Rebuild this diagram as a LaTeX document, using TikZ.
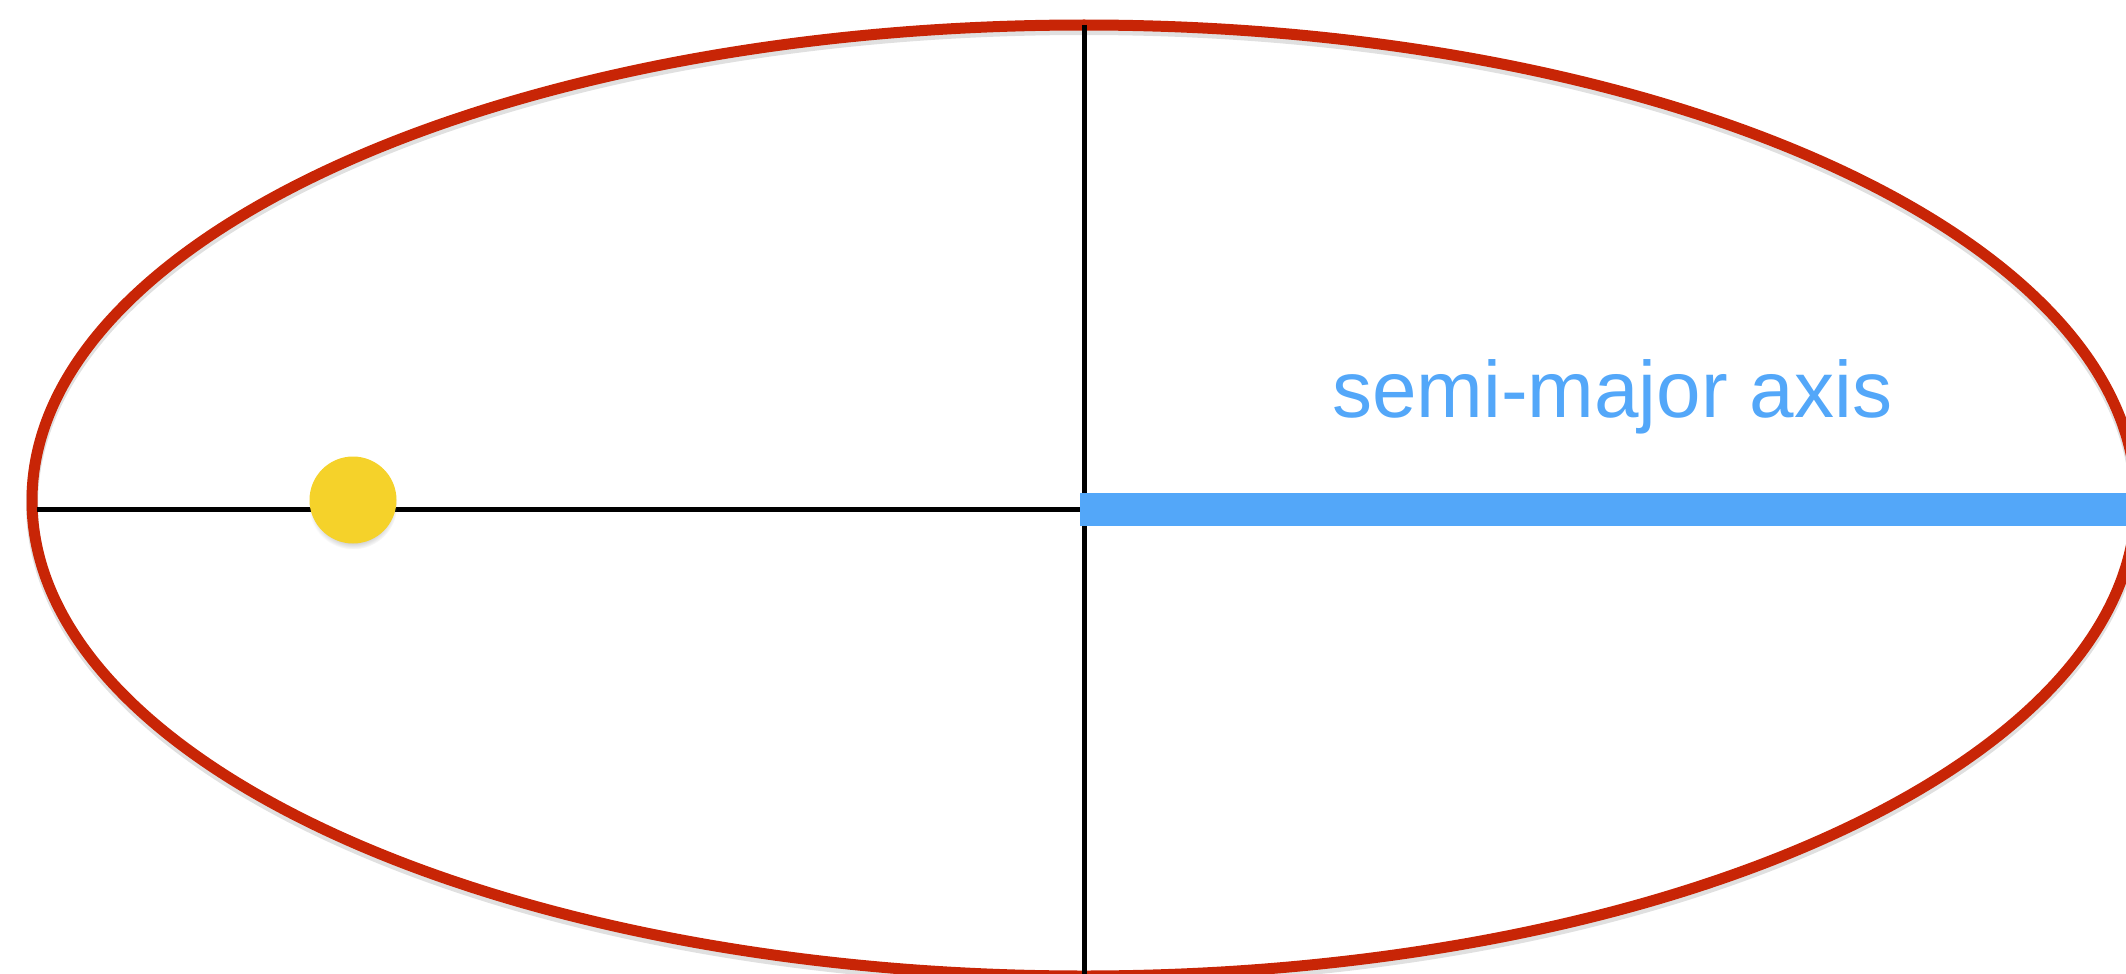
\documentclass[tikz,border=0pt]{standalone}
\usepackage{fontspec}
\setmainfont{Liberation Sans}
\usetikzlibrary{shadows}
\definecolor{orbitred}{HTML}{C82506}
\definecolor{axisblue}{HTML}{53A7F9}
\definecolor{sunyellow}{HTML}{F5D22A}
\tikzset{
  orbit/.style={draw=orbitred, line width=11pt},
  axisline/.style={draw=black, line width=5pt},
  semimajor/.style={draw=axisblue, line width=33pt},
  sun/.style={circle, fill=sunyellow, minimum size=87pt, inner sep=0pt,
    circular drop shadow={shadow xshift=0pt, shadow yshift=-5pt, opacity=0.35, shadow scale=1.02}},
  label/.style={text=axisblue, font=\fontsize{80pt}{92pt}\selectfont, inner sep=0pt, anchor=base west}
}
\begin{document}
\begin{tikzpicture}[x=1pt, y=-1pt]
\useasboundingbox (0,0) rectangle (2126,974);
\coordinate (c) at (1084,500.5);
\coordinate (top) at (1084,25);
\coordinate (bot) at (1084,974);
\coordinate (mid) at (1084,509);
\coordinate (left) at (37,509);
\coordinate (right) at (2126,509);
\coordinate (bluestart) at (1080,509);
% faint shadow of the orbit
\draw[draw=black, opacity=0.12, line width=12pt] ([yshift=-4pt]c) ellipse [x radius=1052, y radius=475.5];
\draw[orbit] (c) ellipse [x radius=1052, y radius=475.5];
\draw[axisline] (top) -- (bot);
\draw[axisline] (left) -- (mid);
\draw[semimajor] (bluestart) -- (right);
\node[sun] (sun) at (353,500) {};
\node[label] (txt) at (1332,417) {semi-major axis};
\end{tikzpicture}
\end{document}
